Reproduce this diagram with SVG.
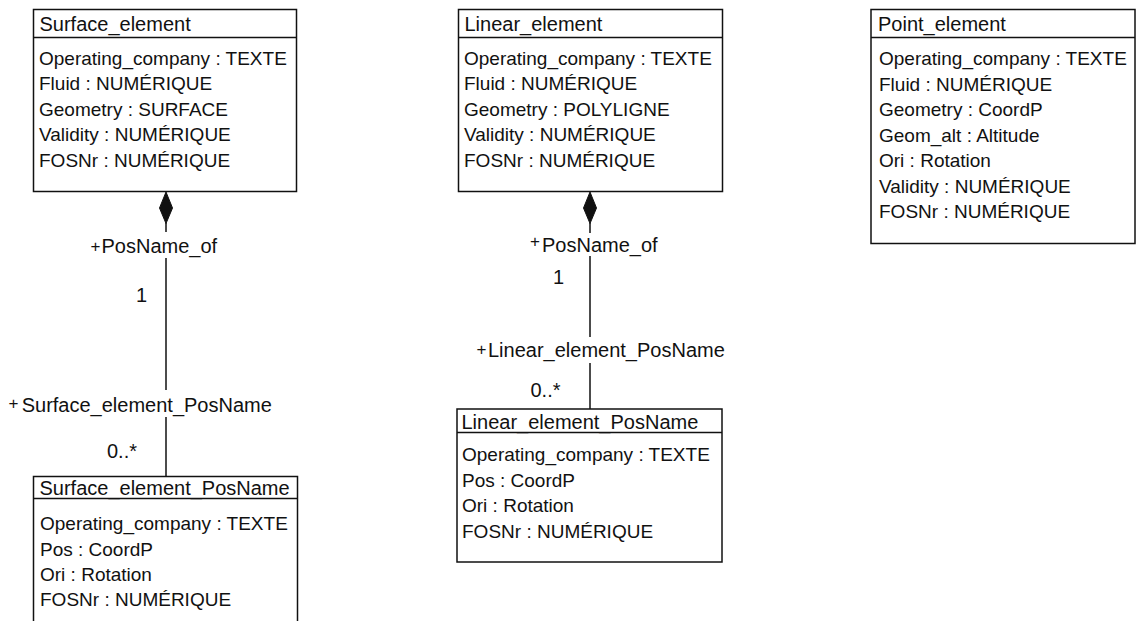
<svg xmlns="http://www.w3.org/2000/svg" width="1144" height="621" viewBox="0 0 1144 621">
<style>
.box{fill:#fff;stroke:#111;stroke-width:1.5}
.sep{stroke:#111;stroke-width:1.5}
.name{font-family:"Liberation Sans",Arial,sans-serif;font-size:20px;fill:#111}
.attr{font-family:"Liberation Sans",Arial,sans-serif;font-size:19px;fill:#111}
.lbl{font-family:"Liberation Sans",Arial,sans-serif;font-size:20px;fill:#111}
.plus{font-family:"Liberation Sans",Arial,sans-serif;font-size:17px;fill:#111}
.edge{stroke:#111;stroke-width:1.5;fill:none}
.dia{fill:#111;stroke:#111;stroke-width:1}
</style>
<rect width="1144" height="621" fill="#fff"/>
<g id="Surface_element">
<rect class="box" x="33.5" y="9.5" width="263" height="182"/>
<line class="sep" x1="33.5" y1="37.5" x2="296.5" y2="37.5"/>
<text class="name" x="39.5" y="31">Surface_element</text>
<text class="attr" x="39" y="65">Operating_company : TEXTE</text>
<text class="attr" x="39" y="90">Fluid : NUMÉRIQUE</text>
<text class="attr" x="39" y="115.5">Geometry : SURFACE</text>
<text class="attr" x="39" y="141">Validity : NUMÉRIQUE</text>
<text class="attr" x="39" y="166.5">FOSNr : NUMÉRIQUE</text>
</g>
<g id="Linear_element">
<rect class="box" x="458.5" y="9.5" width="264" height="182"/>
<line class="sep" x1="458.5" y1="37.5" x2="722.5" y2="37.5"/>
<text class="name" x="464.5" y="31">Linear_element</text>
<text class="attr" x="464" y="65">Operating_company : TEXTE</text>
<text class="attr" x="464" y="90">Fluid : NUMÉRIQUE</text>
<text class="attr" x="464" y="115.5">Geometry : POLYLIGNE</text>
<text class="attr" x="464" y="141">Validity : NUMÉRIQUE</text>
<text class="attr" x="464" y="166.5">FOSNr : NUMÉRIQUE</text>
</g>
<g id="Point_element">
<rect class="box" x="871" y="9.5" width="264" height="234"/>
<line class="sep" x1="871" y1="37.5" x2="1135" y2="37.5"/>
<text class="name" x="878" y="31">Point_element</text>
<text class="attr" x="879" y="65">Operating_company : TEXTE</text>
<text class="attr" x="879" y="90.5">Fluid : NUMÉRIQUE</text>
<text class="attr" x="879" y="116">Geometry : CoordP</text>
<text class="attr" x="879" y="141.5">Geom_alt : Altitude</text>
<text class="attr" x="879" y="167">Ori : Rotation</text>
<text class="attr" x="879" y="192.5">Validity : NUMÉRIQUE</text>
<text class="attr" x="879" y="218">FOSNr : NUMÉRIQUE</text>
</g>
<g id="Surface_element_PosName">
<rect class="box" x="33.5" y="476.5" width="264" height="170"/>
<line class="sep" x1="33.5" y1="498.5" x2="297.5" y2="498.5"/>
<text class="name" x="39.5" y="494.5">Surface_element_PosName</text>
<text class="attr" x="40" y="530">Operating_company : TEXTE</text>
<text class="attr" x="40" y="555.5">Pos : CoordP</text>
<text class="attr" x="40" y="581">Ori : Rotation</text>
<text class="attr" x="40" y="606">FOSNr : NUMÉRIQUE</text>
</g>
<g id="Linear_element_PosName">
<rect class="box" x="457" y="409" width="265" height="153"/>
<line class="sep" x1="457" y1="432.5" x2="722" y2="432.5"/>
<text class="name" x="461.5" y="429">Linear_element_PosName</text>
<text class="attr" x="462" y="461">Operating_company : TEXTE</text>
<text class="attr" x="462" y="486.5">Pos : CoordP</text>
<text class="attr" x="462" y="512">Ori : Rotation</text>
<text class="attr" x="462" y="537.5">FOSNr : NUMÉRIQUE</text>
</g>
<g id="connectors">
<path class="dia" d="M166,192 L172.5,208 L166,223.5 L159.5,208 Z"/>
<line class="edge" x1="166" y1="223" x2="166" y2="232"/>
<line class="edge" x1="166" y1="258" x2="166" y2="390"/>
<line class="edge" x1="166" y1="417" x2="166" y2="476.5"/>
<text class="plus" x="90.5" y="252">+</text>
<text class="lbl" x="101.5" y="253">PosName_of</text>
<text class="lbl" x="136" y="301.5">1</text>
<text class="plus" x="8.5" y="408.5">+</text>
<text class="lbl" x="21.7" y="411.5">Surface_element_PosName</text>
<text class="lbl" x="107" y="458">0..*</text>
<path class="dia" d="M590,192 L596.5,208 L590,223.5 L583.5,208 Z"/>
<line class="edge" x1="590" y1="223" x2="590" y2="233"/>
<line class="edge" x1="590" y1="256" x2="590" y2="337"/>
<line class="edge" x1="590" y1="363" x2="590" y2="409"/>
<text class="plus" x="530" y="246.5">+</text>
<text class="lbl" x="542" y="251.5">PosName_of</text>
<text class="lbl" x="553" y="284">1</text>
<text class="plus" x="476.5" y="354.5">+</text>
<text class="lbl" x="488" y="356.5">Linear_element_PosName</text>
<text class="lbl" x="530.5" y="396.5">0..*</text>
</g>
</svg>
